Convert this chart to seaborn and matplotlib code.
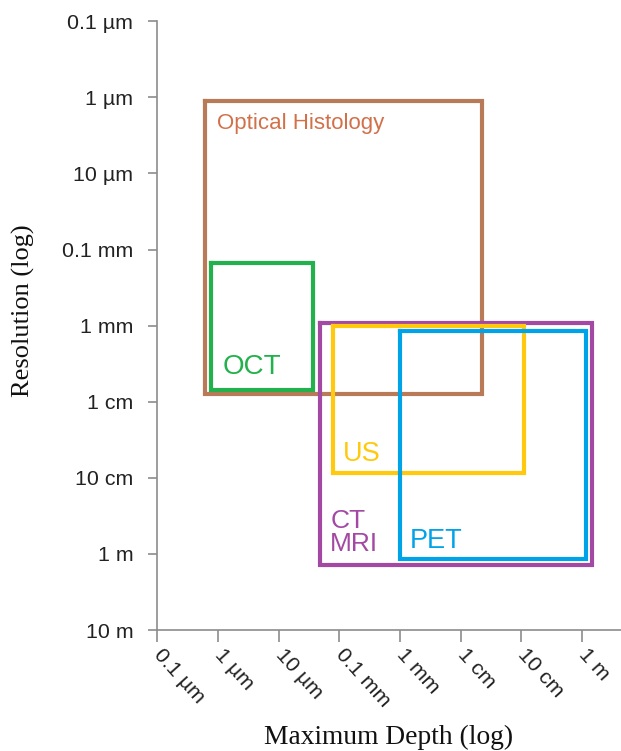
import numpy as np
import pandas as pd
import matplotlib
matplotlib.use("Agg")
import matplotlib.pyplot as plt
import seaborn as sns

# Imaging modalities: range of reachable depth and of resolution, in metres
modalities = ["Optical Histology", "OCT", "CT\nMRI", "US", "PET"]
depth_min = [6.2e-7, 7.6e-7, 4.8e-5, 7.9e-5, 9.8e-4]
depth_max = [2.2e-2, 3.7e-5, 1.45, 0.11, 1.17]
resolution_fine = [1.1e-6, 1.5e-4, 9.1e-4, 1.0e-3, 1.17e-3]
resolution_coarse = [7.8e-3, 7.1e-3, 1.38, 0.087, 1.17]

# Log scale ticks shared by both axes
scale_values = [1e-7, 1e-6, 1e-5, 1e-4, 1e-3, 1e-2, 1e-1, 1e0, 1e1]
scale_labels = ["0.1 µm", "1 µm", "10 µm", "0.1 mm", "1 mm", "1 cm", "10 cm", "1 m", "10 m"]

# Styling
box_colors = {
    "Optical Histology": "#B97A57",
    "OCT": "#22B14C",
    "CT\nMRI": "#A349A4",
    "US": "#FFC90E",
    "PET": "#00A2E8",
}
text_colors = dict(box_colors)
text_colors["Optical Histology"] = "#D2704A"
label_anchor = {
    "Optical Histology": (9.5e-7, 2.2e-6),
    "OCT": (1.2e-6, 3.5e-3),
    "US": (1.15e-4, 0.048),
    "CT\nMRI": (7.1e-5, 0.53),
    "PET": (1.45e-3, 0.68),
}
label_size = {"Optical Histology": 16, "OCT": 20, "US": 19.5, "CT\nMRI": 19, "PET": 19.5}

# Closed outline of each modality's region
rows = []
for name, x0, x1, y0, y1 in zip(modalities, depth_min, depth_max,
                                 resolution_fine, resolution_coarse):
    corners = [(x0, y0), (x1, y0), (x1, y1), (x0, y1), (x0, y0)]
    for k, (x, y) in enumerate(corners):
        rows.append({"modality": name, "step": k, "depth": x, "resolution": y})
outlines = pd.DataFrame(rows)

sns.set_theme(style="white")
plt.rcParams["font.family"] = ["Liberation Sans", "DejaVu Sans"]

W, H = 621, 751
fig = plt.figure(figsize=(W / 100, H / 100), dpi=100)
left, right, top, bottom = 157.3, 621, 21.3, 630
ax = fig.add_axes([left / W, (H - bottom) / H, (right - left) / W, (bottom - top) / H])
ax.set_xscale("log")
ax.set_yscale("log")

sns.lineplot(data=outlines, x="depth", y="resolution", hue="modality",
             hue_order=modalities, units="modality", estimator=None, sort=False,
             palette=box_colors, linewidth=3.0, legend=False, ax=ax)
for line in ax.lines:
    line.set_solid_joinstyle("miter")
    line.set_solid_capstyle("projecting")

for name in modalities:
    x, y = label_anchor[name]
    ax.text(x, y, name, color=text_colors[name], fontsize=label_size[name],
            family=["Liberation Sans", "DejaVu Sans"],
            ha="left", va="center", linespacing=0.95)

ax.set_xticks(scale_values)
ax.set_xticklabels(scale_labels, rotation=-48, ha="left", va="center",
                   rotation_mode="anchor")
ax.set_yticks(scale_values)
ax.set_yticklabels(scale_labels)
ax.minorticks_off()
ax.set_xlim(1e-7, 10 ** 0.64)
ax.set_ylim(10, 1e-7)

spine_color = "#8c8c8c"
ax.tick_params(axis="x", which="major", bottom=True, length=8.6, width=1.2,
               color=spine_color, pad=6.8, labelsize=15.4, labelcolor="#222222")
ax.tick_params(axis="y", which="major", left=True, length=6.5, width=1.2,
               color=spine_color, pad=10.8, labelsize=15.4, labelcolor="#222222")
for side in ("top", "right"):
    ax.spines[side].set_visible(False)
for side in ("left", "bottom"):
    ax.spines[side].set_color(spine_color)
    ax.spines[side].set_linewidth(1.2)
ax.grid(False)

ax.set_xlabel("Maximum Depth (log)", family="Liberation Serif", fontsize=19.8,
              color="#111111")
ax.xaxis.set_label_coords(0.498, -0.187)
ax.xaxis.label.set_verticalalignment("baseline")
ax.set_ylabel("Resolution (log)", family="Liberation Serif", fontsize=19,
              color="#111111")
ax.yaxis.set_label_coords(-0.288, 0.524)
ax.yaxis.label.set_verticalalignment("center")
ax.yaxis.label.set_horizontalalignment("center")

fig.savefig("out.png", dpi=100)
